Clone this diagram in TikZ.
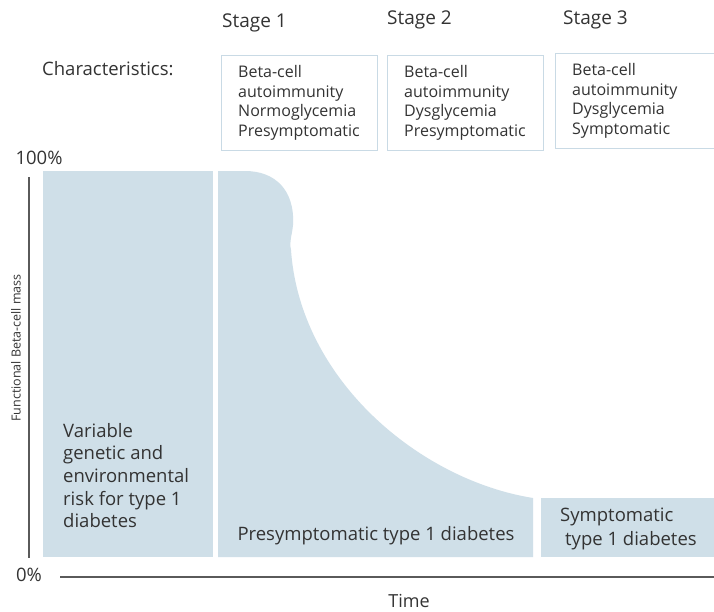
\documentclass[tikz,border=0pt]{standalone}
\usepackage{fontspec}
\setmainfont{Open Sans}
\begin{document}
\begin{tikzpicture}[x=1pt,y=-1pt,
  txt/.style={inner sep=0pt, text=textgray, font=\fontsize{18.5}{22.7}\selectfont},
  stagelbl/.style={txt, anchor=west, font=\fontsize{19}{22}\selectfont},
  charbox/.style={draw=boxline, line width=1pt, fill=white},
  boxtxt/.style={txt, anchor=base west, align=left, font=\fontsize{16}{19.5}\selectfont},
  panel/.style={fill=panelblue, draw=none},
  axisline/.style={draw=axisgray, line width=2pt}]
\definecolor{panelblue}{HTML}{CFDFE8}
\definecolor{boxline}{HTML}{C9DAE5}
\definecolor{textgray}{HTML}{333333}
\definecolor{axisgray}{HTML}{5A5A5A}
\useasboundingbox (0,0) rectangle (714,611);
\fill[white] (0,0) rectangle (714,611);

% stage labels
\node[stagelbl] (s1) at (222,23) {Stage 1};
\node[stagelbl] (s2) at (387,20) {Stage 2};
\node[stagelbl] (s3) at (563,20) {Stage 3};

\node[txt, anchor=west] (char) at (42,69) {Characteristics:};

% characteristic boxes
\path[charbox] (221,55) rectangle (377,150);
\path[charbox] (387,55) rectangle (543,150);
\path[charbox] (555,53) rectangle (720,148);
% base anchor = baseline of the last line
\node[boxtxt] (b1) at (238,136) {Beta-cell\\autoimmunity\\Normoglycemia\\Presymptomatic};
\node[boxtxt] (b2) at (404,136) {Beta-cell\\autoimmunity\\Dysglycemia\\Presymptomatic};
\node[boxtxt] (b3) at (572,134) {Beta-cell\\autoimmunity\\Dysglycemia\\Symptomatic};

% panels
\path[panel] (43,171) rectangle (213,557);
\path[panel] (218,557) -- (218,171) -- (245,171)
  .. controls (275,171) and (295,190) .. (293,225)
  .. controls (292,236) and (289,241) .. (291,250)
  .. controls (300,380) and (420,480) .. (533,498)
  -- (533,557) -- cycle;
\path[panel] (541,498) rectangle (714,557);

\node[txt, anchor=base west, align=left] (risk) at (63,527.8)
  {Variable\\genetic and\\environmental\\risk for type 1\\diabetes};
\node[txt] (pre) at (376,536) {Presymptomatic type 1 diabetes};
\node[txt, anchor=base west, align=left, font=\fontsize{18.5}{24}\selectfont] (sym) at (560,545.5)
  {Symptomatic\\\hspace*{5pt}type 1 diabetes};

% axes
\coordinate (ytop) at (29,177);
\coordinate (ybot) at (29,558);
\coordinate (xl) at (60,577);
\coordinate (xr) at (714,577);
\draw[axisline] (ytop) -- (ybot);
\draw[axisline] (xl) -- (xr);

\node[txt] (p100) at (39,158) {100\%};
\node[txt] (p0) at (29,575) {0\%};
\node[txt, font=\fontsize{18}{20}\selectfont] (time) at (409,601) {Time};
\node[txt, rotate=90, font=\fontsize{12.5}{14}\selectfont] (ylab) at (16,348) {Functional Beta-cell mass};
\end{tikzpicture}
\end{document}
